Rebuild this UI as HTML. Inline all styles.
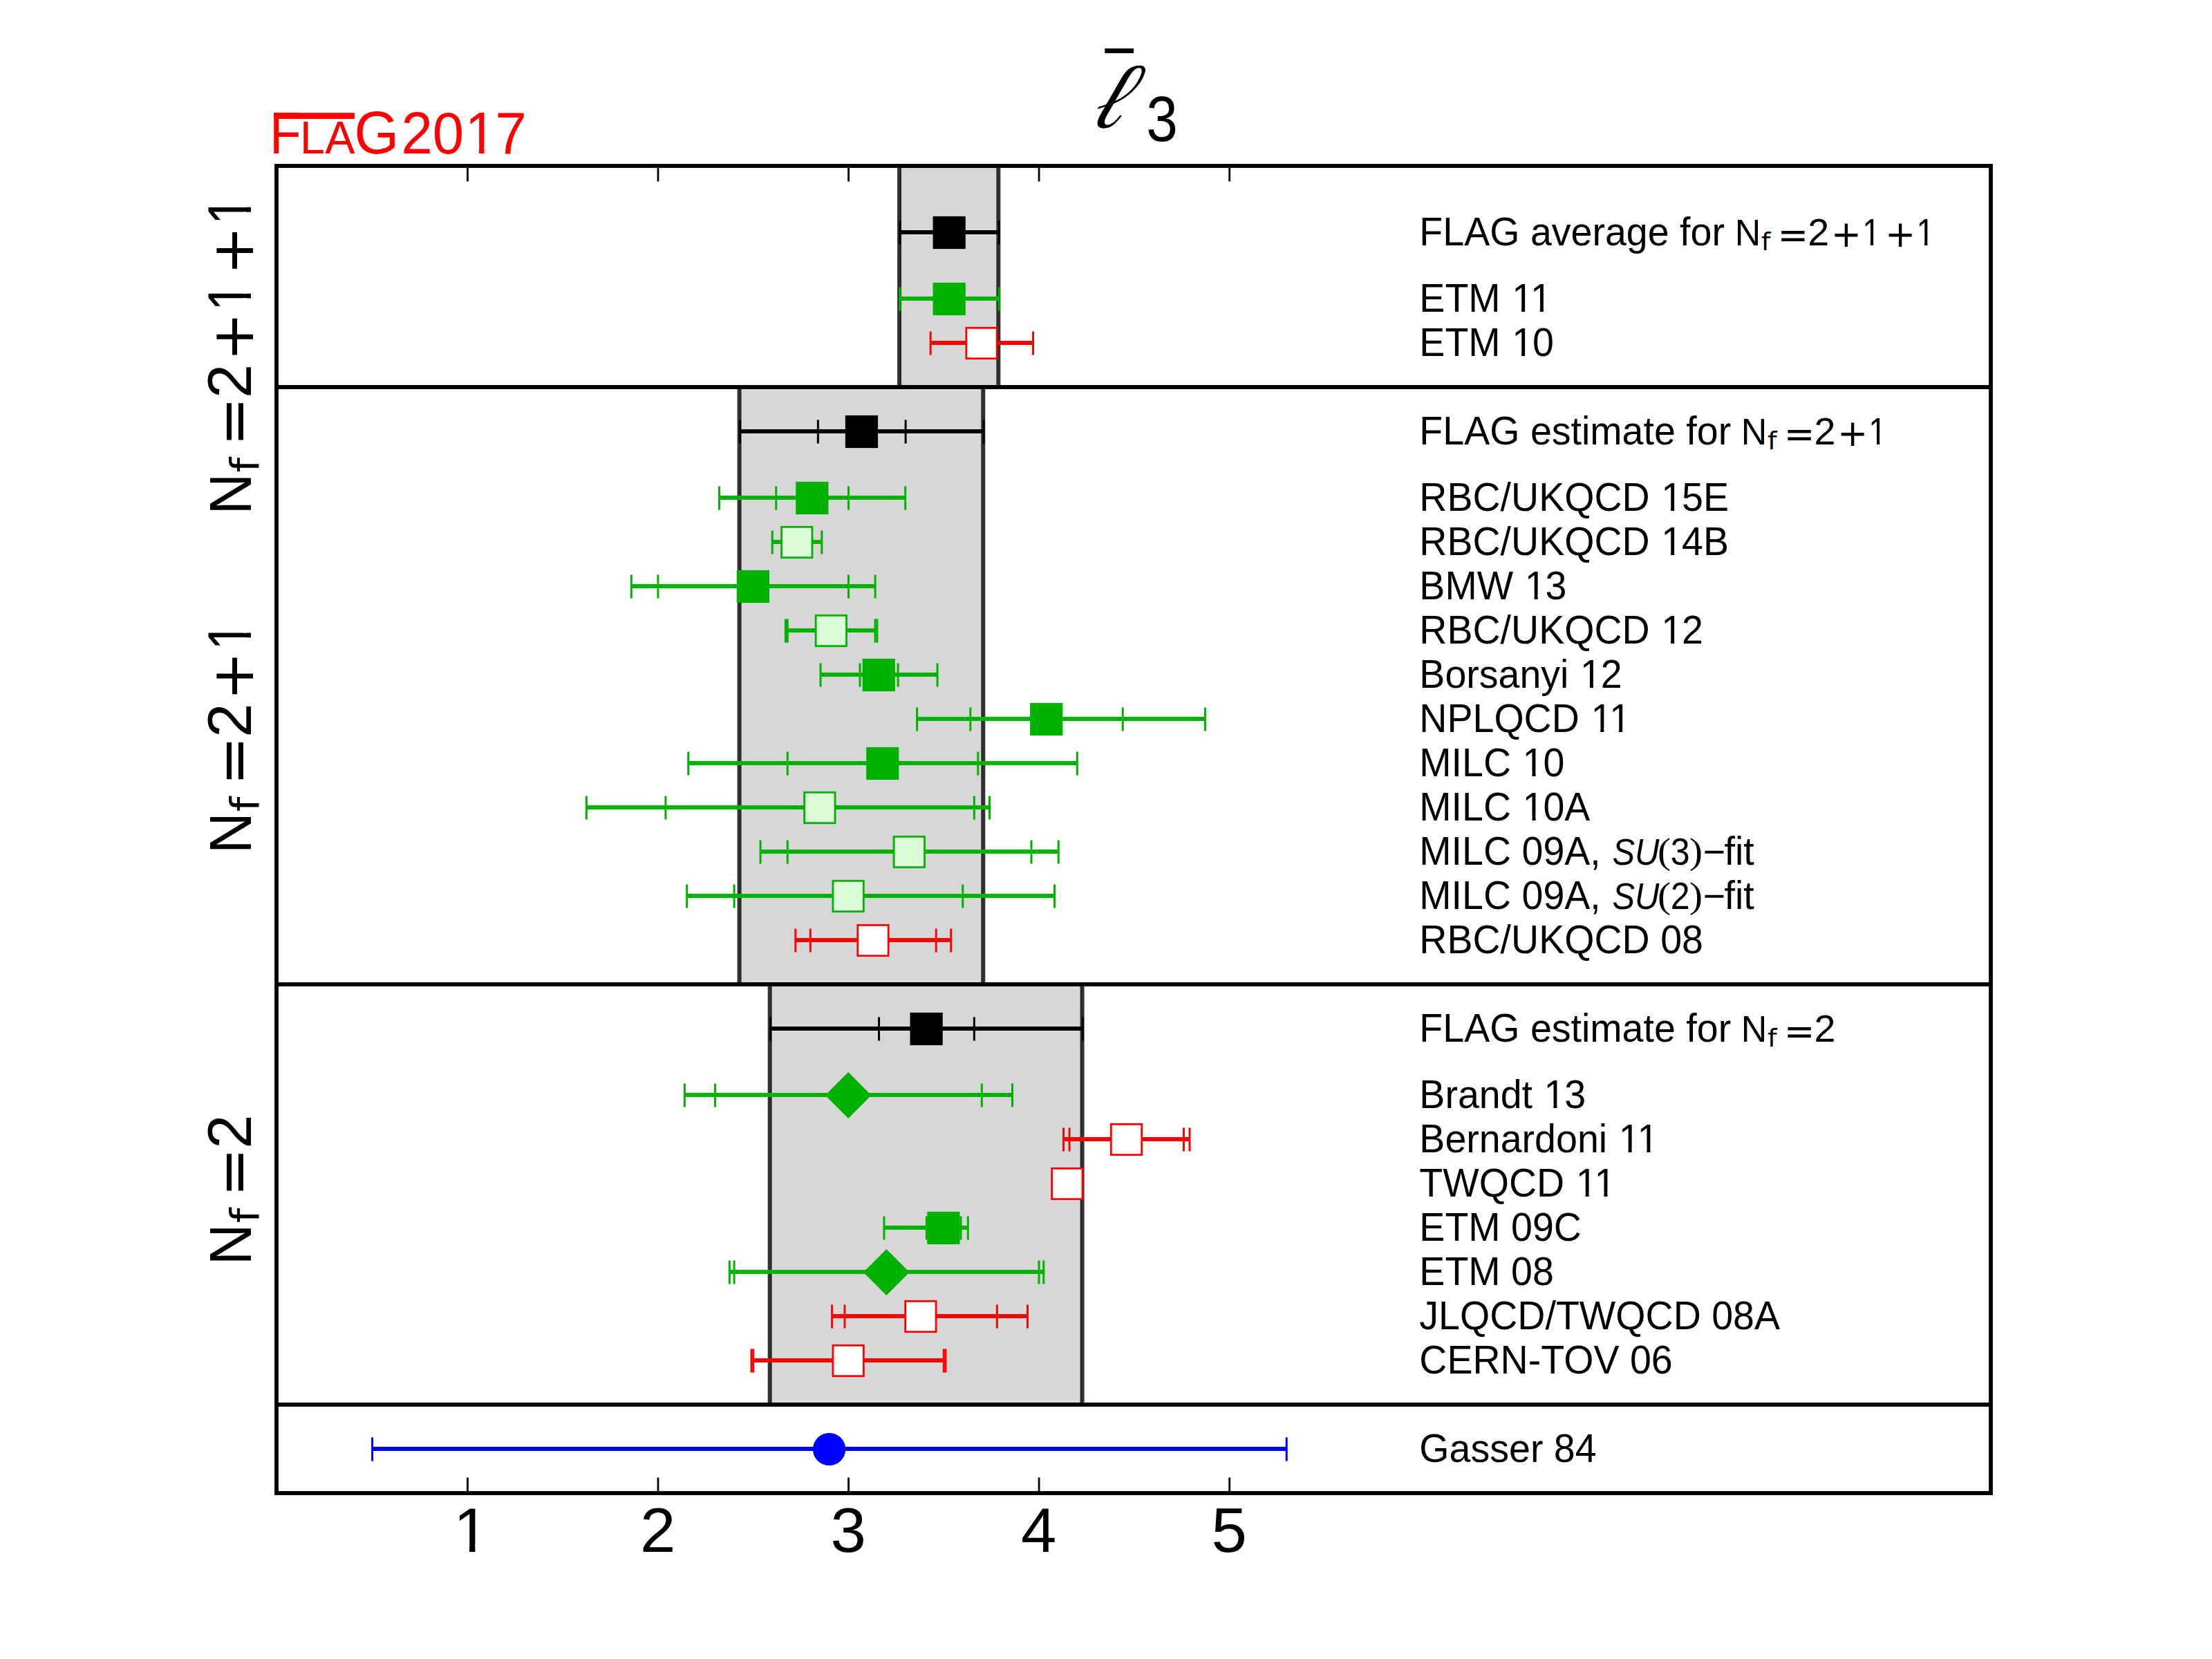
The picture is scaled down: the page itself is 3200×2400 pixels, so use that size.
<!DOCTYPE html>
<html lang="en"><head><meta charset="utf-8"><title>FLAG 2017 l3</title>
<style>
html,body{margin:0;padding:0;background:#fff;overflow:hidden}
svg text{fill:#000;font-kerning:none;white-space:pre}
svg text.r{fill:#ff0000}
.s{font-family:"Liberation Sans",sans-serif}
.d{font-family:"DejaVu Sans","Liberation Sans",sans-serif}
.r{fill:#ff0000}
.t{font-family:"Liberation Serif",serif}
</style></head><body>
<svg width="3200" height="2400" viewBox="0 0 3200 2400" style="display:block">
<rect x="0" y="0" width="3200" height="2400" fill="#ffffff"/>
<defs><clipPath id="c1"><path d="M8 -80H34.6V1H24.8V-12H8Z"/></clipPath></defs>
<rect x="1301.07" y="240.00" width="143.29" height="320.00" fill="#d7d7d7" stroke="#000" stroke-opacity="0.8" stroke-width="6.0"/>
<rect x="1069.60" y="560.00" width="352.71" height="864.00" fill="#d7d7d7" stroke="#000" stroke-opacity="0.8" stroke-width="6.0"/>
<rect x="1113.69" y="1424.00" width="451.91" height="608.00" fill="#d7d7d7" stroke="#000" stroke-opacity="0.8" stroke-width="6.0"/>
<path d="M1301.07 336.00H1444.36" stroke="#000" stroke-width="6.1" fill="none"/>
<path d="M1301.87 319.40V353.60" stroke="#000" stroke-width="3.0" fill="none"/>
<path d="M1445.16 319.40V353.60" stroke="#000" stroke-width="3.0" fill="none"/>
<rect x="1351.01" y="314.30" width="44.4" height="44.4" fill="#000" stroke="#000" stroke-width="2.8"/>
<path d="M1301.07 432.00H1444.36" stroke="#00b200" stroke-width="6.1" fill="none"/>
<path d="M1301.87 415.40V449.60" stroke="#00b200" stroke-width="3.0" fill="none"/>
<path d="M1445.16 415.40V449.60" stroke="#00b200" stroke-width="3.0" fill="none"/>
<rect x="1351.01" y="410.30" width="44.4" height="44.4" fill="#00b200" stroke="#00b200" stroke-width="2.8"/>
<path d="M1345.36 496.00H1493.75" stroke="#ff0000" stroke-width="6.1" fill="none"/>
<path d="M1346.16 479.40V513.60" stroke="#ff0000" stroke-width="3.0" fill="none"/>
<path d="M1494.55 479.40V513.60" stroke="#ff0000" stroke-width="3.0" fill="none"/>
<path d="M1400.27 496.00H1438.84" stroke="#ff0000" stroke-width="6.1" fill="none"/>
<path d="M1401.07 479.40V513.60" stroke="#ff0000" stroke-width="3.0" fill="none"/>
<path d="M1439.64 479.40V513.60" stroke="#ff0000" stroke-width="3.0" fill="none"/>
<rect x="1397.86" y="474.30" width="44.4" height="44.4" fill="#fff" stroke="#ff0000" stroke-width="2.8"/>
<path d="M1069.60 624.00H1422.31" stroke="#000" stroke-width="6.1" fill="none"/>
<path d="M1070.40 607.40V641.60" stroke="#000" stroke-width="3.0" fill="none"/>
<path d="M1423.11 607.40V641.60" stroke="#000" stroke-width="3.0" fill="none"/>
<path d="M1182.58 624.00H1309.33" stroke="#000" stroke-width="6.1" fill="none"/>
<path d="M1183.38 607.40V641.60" stroke="#000" stroke-width="3.0" fill="none"/>
<path d="M1310.13 607.40V641.60" stroke="#000" stroke-width="3.0" fill="none"/>
<rect x="1224.26" y="602.30" width="44.4" height="44.4" fill="#000" stroke="#000" stroke-width="2.8"/>
<path d="M1039.71 720.00H1308.91" stroke="#00b200" stroke-width="6.1" fill="none"/>
<path d="M1040.51 703.40V737.60" stroke="#00b200" stroke-width="3.0" fill="none"/>
<path d="M1309.71 703.40V737.60" stroke="#00b200" stroke-width="3.0" fill="none"/>
<path d="M1121.96 720.00H1226.67" stroke="#00b200" stroke-width="6.1" fill="none"/>
<path d="M1122.76 703.40V737.60" stroke="#00b200" stroke-width="3.0" fill="none"/>
<path d="M1227.47 703.40V737.60" stroke="#00b200" stroke-width="3.0" fill="none"/>
<rect x="1152.61" y="698.30" width="44.4" height="44.4" fill="#00b200" stroke="#00b200" stroke-width="2.8"/>
<path d="M1116.44 784.00H1188.09" stroke="#00b200" stroke-width="6.1" fill="none"/>
<path d="M1117.24 767.40V801.60" stroke="#00b200" stroke-width="3.0" fill="none"/>
<path d="M1188.89 767.40V801.60" stroke="#00b200" stroke-width="3.0" fill="none"/>
<rect x="1130.57" y="762.30" width="44.4" height="44.4" fill="#dcfcdc" stroke="#00b200" stroke-width="2.8"/>
<path d="M912.45 848.00H1265.33" stroke="#00b200" stroke-width="6.1" fill="none"/>
<path d="M913.25 831.40V865.60" stroke="#00b200" stroke-width="3.0" fill="none"/>
<path d="M1266.13 831.40V865.60" stroke="#00b200" stroke-width="3.0" fill="none"/>
<path d="M951.11 848.00H1226.67" stroke="#00b200" stroke-width="6.1" fill="none"/>
<path d="M951.91 831.40V865.60" stroke="#00b200" stroke-width="3.0" fill="none"/>
<path d="M1227.47 831.40V865.60" stroke="#00b200" stroke-width="3.0" fill="none"/>
<rect x="1067.19" y="826.30" width="44.4" height="44.4" fill="#00b200" stroke="#00b200" stroke-width="2.8"/>
<path d="M1135.62 912.00H1268.11" stroke="#00b200" stroke-width="6.1" fill="none"/>
<path d="M1136.42 895.40V929.60" stroke="#00b200" stroke-width="3.0" fill="none"/>
<path d="M1268.91 895.40V929.60" stroke="#00b200" stroke-width="3.0" fill="none"/>
<path d="M1138.49 912.00H1265.24" stroke="#00b200" stroke-width="6.1" fill="none"/>
<path d="M1139.29 895.40V929.60" stroke="#00b200" stroke-width="3.0" fill="none"/>
<path d="M1266.04 895.40V929.60" stroke="#00b200" stroke-width="3.0" fill="none"/>
<rect x="1180.17" y="890.30" width="44.4" height="44.4" fill="#dcfcdc" stroke="#00b200" stroke-width="2.8"/>
<path d="M1186.23 976.00H1355.28" stroke="#00b200" stroke-width="6.1" fill="none"/>
<path d="M1187.03 959.40V993.60" stroke="#00b200" stroke-width="3.0" fill="none"/>
<path d="M1356.08 959.40V993.60" stroke="#00b200" stroke-width="3.0" fill="none"/>
<path d="M1243.20 976.00H1298.31" stroke="#00b200" stroke-width="6.1" fill="none"/>
<path d="M1244.00 959.40V993.60" stroke="#00b200" stroke-width="3.0" fill="none"/>
<path d="M1299.11 959.40V993.60" stroke="#00b200" stroke-width="3.0" fill="none"/>
<rect x="1249.06" y="954.30" width="44.4" height="44.4" fill="#00b200" stroke="#00b200" stroke-width="2.8"/>
<path d="M1325.85 1040.00H1742.62" stroke="#00b200" stroke-width="6.1" fill="none"/>
<path d="M1326.65 1023.40V1057.60" stroke="#00b200" stroke-width="3.0" fill="none"/>
<path d="M1743.42 1023.40V1057.60" stroke="#00b200" stroke-width="3.0" fill="none"/>
<path d="M1403.02 1040.00H1623.47" stroke="#00b200" stroke-width="6.1" fill="none"/>
<path d="M1403.82 1023.40V1057.60" stroke="#00b200" stroke-width="3.0" fill="none"/>
<path d="M1624.27 1023.40V1057.60" stroke="#00b200" stroke-width="3.0" fill="none"/>
<rect x="1491.54" y="1018.30" width="44.4" height="44.4" fill="#00b200" stroke="#00b200" stroke-width="2.8"/>
<path d="M994.97 1104.00H1557.56" stroke="#00b200" stroke-width="6.1" fill="none"/>
<path d="M995.77 1087.40V1121.60" stroke="#00b200" stroke-width="3.0" fill="none"/>
<path d="M1558.36 1087.40V1121.60" stroke="#00b200" stroke-width="3.0" fill="none"/>
<path d="M1138.49 1104.00H1414.04" stroke="#00b200" stroke-width="6.1" fill="none"/>
<path d="M1139.29 1087.40V1121.60" stroke="#00b200" stroke-width="3.0" fill="none"/>
<path d="M1414.84 1087.40V1121.60" stroke="#00b200" stroke-width="3.0" fill="none"/>
<rect x="1254.57" y="1082.30" width="44.4" height="44.4" fill="#00b200" stroke="#00b200" stroke-width="2.8"/>
<path d="M847.57 1168.00H1430.72" stroke="#00b200" stroke-width="6.1" fill="none"/>
<path d="M848.37 1151.40V1185.60" stroke="#00b200" stroke-width="3.0" fill="none"/>
<path d="M1431.52 1151.40V1185.60" stroke="#00b200" stroke-width="3.0" fill="none"/>
<path d="M962.13 1168.00H1408.53" stroke="#00b200" stroke-width="6.1" fill="none"/>
<path d="M962.93 1151.40V1185.60" stroke="#00b200" stroke-width="3.0" fill="none"/>
<path d="M1409.33 1151.40V1185.60" stroke="#00b200" stroke-width="3.0" fill="none"/>
<rect x="1163.63" y="1146.30" width="44.4" height="44.4" fill="#dcfcdc" stroke="#00b200" stroke-width="2.8"/>
<path d="M1099.26 1232.00H1530.43" stroke="#00b200" stroke-width="6.1" fill="none"/>
<path d="M1100.06 1215.40V1249.60" stroke="#00b200" stroke-width="3.0" fill="none"/>
<path d="M1531.23 1215.40V1249.60" stroke="#00b200" stroke-width="3.0" fill="none"/>
<path d="M1138.49 1232.00H1491.20" stroke="#00b200" stroke-width="6.1" fill="none"/>
<path d="M1139.29 1215.40V1249.60" stroke="#00b200" stroke-width="3.0" fill="none"/>
<path d="M1492.00 1215.40V1249.60" stroke="#00b200" stroke-width="3.0" fill="none"/>
<rect x="1293.14" y="1210.30" width="44.4" height="44.4" fill="#dcfcdc" stroke="#00b200" stroke-width="2.8"/>
<path d="M992.85 1296.00H1524.73" stroke="#00b200" stroke-width="6.1" fill="none"/>
<path d="M993.65 1279.40V1313.60" stroke="#00b200" stroke-width="3.0" fill="none"/>
<path d="M1525.53 1279.40V1313.60" stroke="#00b200" stroke-width="3.0" fill="none"/>
<path d="M1061.33 1296.00H1392.00" stroke="#00b200" stroke-width="6.1" fill="none"/>
<path d="M1062.13 1279.40V1313.60" stroke="#00b200" stroke-width="3.0" fill="none"/>
<path d="M1392.80 1279.40V1313.60" stroke="#00b200" stroke-width="3.0" fill="none"/>
<rect x="1204.97" y="1274.30" width="44.4" height="44.4" fill="#dcfcdc" stroke="#00b200" stroke-width="2.8"/>
<path d="M1150.05 1360.00H1374.93" stroke="#ff0000" stroke-width="6.1" fill="none"/>
<path d="M1150.85 1343.40V1377.60" stroke="#ff0000" stroke-width="3.0" fill="none"/>
<path d="M1375.73 1343.40V1377.60" stroke="#ff0000" stroke-width="3.0" fill="none"/>
<path d="M1171.56 1360.00H1353.42" stroke="#ff0000" stroke-width="6.1" fill="none"/>
<path d="M1172.36 1343.40V1377.60" stroke="#ff0000" stroke-width="3.0" fill="none"/>
<path d="M1354.22 1343.40V1377.60" stroke="#ff0000" stroke-width="3.0" fill="none"/>
<rect x="1240.79" y="1338.30" width="44.4" height="44.4" fill="#fff" stroke="#ff0000" stroke-width="2.8"/>
<path d="M1113.69 1488.00H1565.60" stroke="#000" stroke-width="6.1" fill="none"/>
<path d="M1114.49 1471.40V1505.60" stroke="#000" stroke-width="3.0" fill="none"/>
<path d="M1566.40 1471.40V1505.60" stroke="#000" stroke-width="3.0" fill="none"/>
<path d="M1270.76 1488.00H1408.53" stroke="#000" stroke-width="6.1" fill="none"/>
<path d="M1271.56 1471.40V1505.60" stroke="#000" stroke-width="3.0" fill="none"/>
<path d="M1409.33 1471.40V1505.60" stroke="#000" stroke-width="3.0" fill="none"/>
<rect x="1317.94" y="1466.30" width="44.4" height="44.4" fill="#000" stroke="#000" stroke-width="2.8"/>
<path d="M989.62 1584.00H1463.71" stroke="#00b200" stroke-width="6.1" fill="none"/>
<path d="M990.42 1567.40V1601.60" stroke="#00b200" stroke-width="3.0" fill="none"/>
<path d="M1464.51 1567.40V1601.60" stroke="#00b200" stroke-width="3.0" fill="none"/>
<path d="M1033.78 1584.00H1419.56" stroke="#00b200" stroke-width="6.1" fill="none"/>
<path d="M1034.58 1567.40V1601.60" stroke="#00b200" stroke-width="3.0" fill="none"/>
<path d="M1420.36 1567.40V1601.60" stroke="#00b200" stroke-width="3.0" fill="none"/>
<path d="M1227.17 1553.10L1258.56 1584.50L1227.17 1615.90L1195.77 1584.50Z" fill="#00b200" stroke="#00b200" stroke-width="2.8"/>
<path d="M1537.75 1648.00H1720.20" stroke="#ff0000" stroke-width="6.1" fill="none"/>
<path d="M1538.55 1631.40V1665.60" stroke="#ff0000" stroke-width="3.0" fill="none"/>
<path d="M1721.00 1631.40V1665.60" stroke="#ff0000" stroke-width="3.0" fill="none"/>
<path d="M1546.31 1648.00H1711.64" stroke="#ff0000" stroke-width="6.1" fill="none"/>
<path d="M1547.11 1631.40V1665.60" stroke="#ff0000" stroke-width="3.0" fill="none"/>
<path d="M1712.44 1631.40V1665.60" stroke="#ff0000" stroke-width="3.0" fill="none"/>
<rect x="1607.28" y="1626.30" width="44.4" height="44.4" fill="#fff" stroke="#ff0000" stroke-width="2.8"/>
<path d="M1532.89 1712.00H1553.67" stroke="#ff0000" stroke-width="6.1" fill="none"/>
<path d="M1533.69 1695.40V1729.60" stroke="#ff0000" stroke-width="3.0" fill="none"/>
<path d="M1554.47 1695.40V1729.60" stroke="#ff0000" stroke-width="3.0" fill="none"/>
<path d="M1533.64 1712.00H1552.92" stroke="#ff0000" stroke-width="6.1" fill="none"/>
<path d="M1534.44 1695.40V1729.60" stroke="#ff0000" stroke-width="3.0" fill="none"/>
<path d="M1553.72 1695.40V1729.60" stroke="#ff0000" stroke-width="3.0" fill="none"/>
<rect x="1521.58" y="1690.30" width="44.4" height="44.4" fill="#fff" stroke="#ff0000" stroke-width="2.8"/>
<path d="M1278.14 1776.00H1399.52" stroke="#00b200" stroke-width="6.1" fill="none"/>
<path d="M1278.94 1759.40V1793.60" stroke="#00b200" stroke-width="3.0" fill="none"/>
<path d="M1400.32 1759.40V1793.60" stroke="#00b200" stroke-width="3.0" fill="none"/>
<path d="M1339.64 1776.00H1389.24" stroke="#00b200" stroke-width="6.1" fill="none"/>
<path d="M1340.44 1759.40V1793.60" stroke="#00b200" stroke-width="3.0" fill="none"/>
<path d="M1390.04 1759.40V1793.60" stroke="#00b200" stroke-width="3.0" fill="none"/>
<rect x="1342.74" y="1754.30" width="44.4" height="44.4" fill="#00b200" stroke="#00b200" stroke-width="2.8"/>
<path d="M1054.55 1840.00H1509.01" stroke="#00b200" stroke-width="6.1" fill="none"/>
<path d="M1055.35 1823.40V1857.60" stroke="#00b200" stroke-width="3.0" fill="none"/>
<path d="M1509.81 1823.40V1857.60" stroke="#00b200" stroke-width="3.0" fill="none"/>
<path d="M1061.33 1840.00H1502.22" stroke="#00b200" stroke-width="6.1" fill="none"/>
<path d="M1062.13 1823.40V1857.60" stroke="#00b200" stroke-width="3.0" fill="none"/>
<path d="M1503.02 1823.40V1857.60" stroke="#00b200" stroke-width="3.0" fill="none"/>
<path d="M1282.28 1809.10L1313.67 1840.50L1282.28 1871.90L1250.88 1840.50Z" fill="#00b200" stroke="#00b200" stroke-width="2.8"/>
<path d="M1202.84 1904.00H1485.71" stroke="#ff0000" stroke-width="6.1" fill="none"/>
<path d="M1203.64 1887.40V1921.60" stroke="#ff0000" stroke-width="3.0" fill="none"/>
<path d="M1486.51 1887.40V1921.60" stroke="#ff0000" stroke-width="3.0" fill="none"/>
<path d="M1221.16 1904.00H1441.60" stroke="#ff0000" stroke-width="6.1" fill="none"/>
<path d="M1221.96 1887.40V1921.60" stroke="#ff0000" stroke-width="3.0" fill="none"/>
<path d="M1442.40 1887.40V1921.60" stroke="#ff0000" stroke-width="3.0" fill="none"/>
<rect x="1309.68" y="1882.30" width="44.4" height="44.4" fill="#fff" stroke="#ff0000" stroke-width="2.8"/>
<path d="M1086.16 1968.00H1367.17" stroke="#ff0000" stroke-width="6.1" fill="none"/>
<path d="M1086.96 1951.40V1985.60" stroke="#ff0000" stroke-width="3.0" fill="none"/>
<path d="M1367.97 1951.40V1985.60" stroke="#ff0000" stroke-width="3.0" fill="none"/>
<path d="M1088.89 1968.00H1364.44" stroke="#ff0000" stroke-width="6.1" fill="none"/>
<path d="M1089.69 1951.40V1985.60" stroke="#ff0000" stroke-width="3.0" fill="none"/>
<path d="M1365.24 1951.40V1985.60" stroke="#ff0000" stroke-width="3.0" fill="none"/>
<rect x="1204.97" y="1946.30" width="44.4" height="44.4" fill="#fff" stroke="#ff0000" stroke-width="2.8"/>
<path d="M537.78 2096.00H1860.44" stroke="#0000ff" stroke-width="6.1" fill="none"/>
<path d="M538.58 2079.40V2113.60" stroke="#0000ff" stroke-width="3.0" fill="none"/>
<path d="M1861.24 2079.40V2113.60" stroke="#0000ff" stroke-width="3.0" fill="none"/>
<circle cx="1199.61" cy="2096.50" r="22.20" fill="#0000ff" stroke="#0000ff" stroke-width="2.8"/>
<path d="M400.0 560.00H2880.0" stroke="#000" stroke-width="5.8"/>
<path d="M400.0 1424.00H2880.0" stroke="#000" stroke-width="5.8"/>
<path d="M400.0 2032.00H2880.0" stroke="#000" stroke-width="5.8"/>
<rect x="400.0" y="240.0" width="2480.0" height="1920.0" fill="none" stroke="#000" stroke-width="5.8"/>
<path d="M676.46 240.0v22.6M676.46 2160.0v-22.6" stroke="#000" stroke-width="2.8"/>
<path d="M952.01 240.0v22.6M952.01 2160.0v-22.6" stroke="#000" stroke-width="2.8"/>
<path d="M1227.57 240.0v22.6M1227.57 2160.0v-22.6" stroke="#000" stroke-width="2.8"/>
<path d="M1503.12 240.0v22.6M1503.12 2160.0v-22.6" stroke="#000" stroke-width="2.8"/>
<path d="M1778.68 240.0v22.6M1778.68 2160.0v-22.6" stroke="#000" stroke-width="2.8"/>
<g transform="translate(2053.33 355.40) scale(0.5556 0.5750)"><text x="0.0 61.1 116.7 183.4 261.2 289.0 344.6 394.6 450.2 483.5 539.1 594.7 650.3 678.1 705.9 761.5 794.8" y="0" font-size="100" class="s">FLAG average for </text></g>
<g transform="translate(2509.67 355.40) scale(0.5200 0.5382)"><text x="0.0" y="0" font-size="100" class="s">N</text></g><text font-size="36.50" class="d" transform="translate(2547.87 362.40) scale(1.05 0.97)">f</text><text x="2571.62" y="357.60" font-size="53.30" class="d">=</text><g transform="translate(2615.27 355.40) scale(0.5556 0.5556)"><text x="0.0" y="0" font-size="100" class="s">2</text></g><text x="2648.77" y="357.40" font-size="52.80" class="d">+</text><g transform="translate(2694.17 355.40) scale(0.4667 0.5556)"><text x="0.0" y="0" font-size="100" class="s">1</text><path d="M4.5 -12h20.45v14h-20.45zM34.1 -12h19.5v14h-19.5z" fill="#fff"/></g><text x="2727.07" y="357.40" font-size="52.80" class="d">+</text><g transform="translate(2772.47 355.40) scale(0.4667 0.5556)"><text x="0.0" y="0" font-size="100" class="s">1</text><path d="M4.5 -12h20.45v14h-20.45zM34.1 -12h19.5v14h-19.5z" fill="#fff"/></g>
<g transform="translate(2053.33 451.40) scale(0.5556 0.5750)"><text x="0.0 66.7 127.8 211.1 240.9 289.1" y="0" font-size="100" class="s">ETM 11</text><path d="M245.4 -12h20.45v14h-20.45zM275.0 -12h19.5v14h-19.5z" fill="#fff"/><path d="M293.6 -12h20.45v14h-20.45zM323.2 -12h19.5v14h-19.5z" fill="#fff"/></g>
<g transform="translate(2053.33 515.40) scale(0.5556 0.5750)"><text x="0.0 66.7 127.8 211.1 240.9 294.5" y="0" font-size="100" class="s">ETM 10</text><path d="M245.4 -12h20.45v14h-20.45zM275.0 -12h19.5v14h-19.5z" fill="#fff"/></g>
<g transform="translate(2053.33 643.40) scale(0.5556 0.5750)"><text x="0.0 61.1 116.7 183.4 261.2 289.0 344.6 394.6 422.4 444.6 527.9 583.5 611.3 666.9 694.7 722.5 778.1 811.4" y="0" font-size="100" class="s">FLAG estimate for </text></g>
<g transform="translate(2518.87 643.40) scale(0.5200 0.5382)"><text x="0.0" y="0" font-size="100" class="s">N</text></g><text font-size="36.50" class="d" transform="translate(2557.07 650.40) scale(1.05 0.97)">f</text><text x="2580.82" y="645.60" font-size="53.30" class="d">=</text><g transform="translate(2624.47 643.40) scale(0.5556 0.5556)"><text x="0.0" y="0" font-size="100" class="s">2</text></g><text x="2657.97" y="645.40" font-size="52.80" class="d">+</text><g transform="translate(2703.37 643.40) scale(0.4667 0.5556)"><text x="0.0" y="0" font-size="100" class="s">1</text><path d="M4.5 -12h20.45v14h-20.45zM34.1 -12h19.5v14h-19.5z" fill="#fff"/></g>
<g transform="translate(2053.33 739.40) scale(0.5556 0.5750)"><text x="0.0 72.2 138.9 211.1 238.9 311.1 377.8 455.6 527.8 600.0 629.8 683.4 739.1" y="0" font-size="100" class="s">RBC/UKQCD 15E</text><path d="M634.3 -12h20.45v14h-20.45zM663.9 -12h19.5v14h-19.5z" fill="#fff"/></g>
<g transform="translate(2053.33 803.40) scale(0.5556 0.5750)"><text x="0.0 72.2 138.9 211.1 238.9 311.1 377.8 455.6 527.8 600.0 629.8 683.4 739.1" y="0" font-size="100" class="s">RBC/UKQCD 14B</text><path d="M634.3 -12h20.45v14h-20.45zM663.9 -12h19.5v14h-19.5z" fill="#fff"/></g>
<g transform="translate(2053.33 867.40) scale(0.5556 0.5750)"><text x="0.0 66.7 150.0 244.4 274.2 327.8" y="0" font-size="100" class="s">BMW 13</text><path d="M278.7 -12h20.45v14h-20.45zM308.3 -12h19.5v14h-19.5z" fill="#fff"/></g>
<g transform="translate(2053.33 931.40) scale(0.5556 0.5750)"><text x="0.0 72.2 138.9 211.1 238.9 311.1 377.8 455.6 527.8 600.0 629.8 683.4" y="0" font-size="100" class="s">RBC/UKQCD 12</text><path d="M634.3 -12h20.45v14h-20.45zM663.9 -12h19.5v14h-19.5z" fill="#fff"/></g>
<g transform="translate(2053.33 995.40) scale(0.5556 0.5750)"><text x="0.0 66.7 122.3 155.6 205.6 261.2 316.8 366.8 389.1 418.8 472.5" y="0" font-size="100" class="s">Borsanyi 12</text><path d="M423.3 -12h20.45v14h-20.45zM452.9 -12h19.5v14h-19.5z" fill="#fff"/></g>
<g transform="translate(2053.33 1059.40) scale(0.5556 0.5750)"><text x="0.0 72.2 138.9 194.5 272.3 344.5 416.7 446.5 494.7" y="0" font-size="100" class="s">NPLQCD 11</text><path d="M451.0 -12h20.45v14h-20.45zM480.6 -12h19.5v14h-19.5z" fill="#fff"/><path d="M499.2 -12h20.45v14h-20.45zM528.8 -12h19.5v14h-19.5z" fill="#fff"/></g>
<g transform="translate(2053.33 1123.40) scale(0.5556 0.5750)"><text x="0.0 83.3 111.1 166.7 238.9 268.7 322.3" y="0" font-size="100" class="s">MILC 10</text><path d="M273.2 -12h20.45v14h-20.45zM302.8 -12h19.5v14h-19.5z" fill="#fff"/></g>
<g transform="translate(2053.33 1187.40) scale(0.5556 0.5750)"><text x="0.0 83.3 111.1 166.7 238.9 268.7 322.3 377.9" y="0" font-size="100" class="s">MILC 10A</text><path d="M273.2 -12h20.45v14h-20.45zM302.8 -12h19.5v14h-19.5z" fill="#fff"/></g>
<g transform="translate(2053.33 1251.40) scale(0.5556 0.5750)"><text x="0.0 83.3 111.1 166.7 238.9 266.7 322.3 377.9 444.6" y="0" font-size="100" class="s">MILC 09A,</text></g>
<text font-size="52" class="s" font-style="italic" transform="translate(2332.5 1251.40) scale(0.94 1.035)">SU</text>
<text font-size="52" class="t" transform="translate(2397.9 1249.40) scale(1.1 1)">(</text>
<g transform="translate(2416.80 1251.40) scale(0.5000 0.5556)"><text x="0.0" y="0" font-size="100" class="s">3</text></g>
<text font-size="52" class="t" transform="translate(2443.9 1249.40) scale(1.1 1)">)</text>
<text x="2463.5" y="1251.40" font-size="55.56" class="s">−</text>
<g transform="translate(2494.50 1251.40) scale(0.5556 0.5750)"><text x="0.0 27.8 50.0" y="0" font-size="100" class="s">fit</text></g>
<g transform="translate(2053.33 1315.40) scale(0.5556 0.5750)"><text x="0.0 83.3 111.1 166.7 238.9 266.7 322.3 377.9 444.6" y="0" font-size="100" class="s">MILC 09A,</text></g>
<text font-size="52" class="s" font-style="italic" transform="translate(2332.5 1315.40) scale(0.94 1.035)">SU</text>
<text font-size="52" class="t" transform="translate(2397.9 1313.40) scale(1.1 1)">(</text>
<g transform="translate(2416.80 1315.40) scale(0.5000 0.5556)"><text x="0.0" y="0" font-size="100" class="s">2</text></g>
<text font-size="52" class="t" transform="translate(2443.9 1313.40) scale(1.1 1)">)</text>
<text x="2463.5" y="1315.40" font-size="55.56" class="s">−</text>
<g transform="translate(2494.50 1315.40) scale(0.5556 0.5750)"><text x="0.0 27.8 50.0" y="0" font-size="100" class="s">fit</text></g>
<g transform="translate(2053.33 1379.40) scale(0.5556 0.5750)"><text x="0.0 72.2 138.9 211.1 238.9 311.1 377.8 455.6 527.8 600.0 627.8 683.4" y="0" font-size="100" class="s">RBC/UKQCD 08</text></g>
<g transform="translate(2053.33 1507.40) scale(0.5556 0.5750)"><text x="0.0 61.1 116.7 183.4 261.2 289.0 344.6 394.6 422.4 444.6 527.9 583.5 611.3 666.9 694.7 722.5 778.1 811.4" y="0" font-size="100" class="s">FLAG estimate for </text></g>
<g transform="translate(2518.87 1507.40) scale(0.5200 0.5382)"><text x="0.0" y="0" font-size="100" class="s">N</text></g><text font-size="36.50" class="d" transform="translate(2557.07 1514.40) scale(1.05 0.97)">f</text><text x="2580.82" y="1509.60" font-size="53.30" class="d">=</text><g transform="translate(2624.47 1507.40) scale(0.5556 0.5556)"><text x="0.0" y="0" font-size="100" class="s">2</text></g>
<g transform="translate(2053.33 1603.40) scale(0.5556 0.5750)"><text x="0.0 66.7 100.0 155.6 211.2 266.8 294.6 324.4 378.0" y="0" font-size="100" class="s">Brandt 13</text><path d="M328.9 -12h20.45v14h-20.45zM358.5 -12h19.5v14h-19.5z" fill="#fff"/></g>
<g transform="translate(2053.33 1667.40) scale(0.5556 0.5750)"><text x="0.0 66.7 122.3 155.6 211.2 266.8 300.1 355.8 411.4 467.0 489.2 519.0 567.2" y="0" font-size="100" class="s">Bernardoni 11</text><path d="M523.5 -12h20.45v14h-20.45zM553.1 -12h19.5v14h-19.5z" fill="#fff"/><path d="M571.7 -12h20.45v14h-20.45zM601.3 -12h19.5v14h-19.5z" fill="#fff"/></g>
<g transform="translate(2053.33 1731.40) scale(0.5556 0.5750)"><text x="0.0 61.1 155.5 233.3 305.5 377.7 407.5 455.7" y="0" font-size="100" class="s">TWQCD 11</text><path d="M412.0 -12h20.45v14h-20.45zM441.6 -12h19.5v14h-19.5z" fill="#fff"/><path d="M460.2 -12h20.45v14h-20.45zM489.8 -12h19.5v14h-19.5z" fill="#fff"/></g>
<g transform="translate(2053.33 1795.40) scale(0.5556 0.5750)"><text x="0.0 66.7 127.8 211.1 238.9 294.5 350.1" y="0" font-size="100" class="s">ETM 09C</text></g>
<g transform="translate(2053.33 1859.40) scale(0.5556 0.5750)"><text x="0.0 66.7 127.8 211.1 238.9 294.5" y="0" font-size="100" class="s">ETM 08</text></g>
<g transform="translate(2053.33 1923.40) scale(0.5556 0.5750)"><text x="0.0 50.0 105.6 183.4 255.6 327.8 355.6 416.7 511.1 588.9 661.1 733.3 761.1 816.7 872.3" y="0" font-size="100" class="s">JLQCD/TWQCD 08A</text></g>
<g transform="translate(2053.33 1987.40) scale(0.5556 0.5750)"><text x="0.0 72.2 138.9 211.1 283.3 316.7 375.9 453.7 520.4 548.2 603.8" y="0" font-size="100" class="s">CERN-TOV 06</text></g>
<g transform="translate(2053.33 2115.40) scale(0.5556 0.5750)"><text x="0.0 77.8 133.4 183.4 233.4 289.0 322.3 350.1 405.7" y="0" font-size="100" class="s">Gasser 84</text></g>
<g transform="translate(363.2 744.39) rotate(-90)"><g transform="translate(0.00 0.00) scale(0.8294 0.8584)"><text x="0.0" y="0" font-size="100" class="s">N</text></g><text font-size="58.22" class="d" transform="translate(60.93 11.16) scale(1.05 0.97)">f</text><text x="98.81" y="3.51" font-size="85.01" class="d">=</text><g transform="translate(168.43 0.00) scale(0.8862 0.8862)"><text x="0.0" y="0" font-size="100" class="s">2</text></g><text x="221.86" y="3.19" font-size="84.22" class="d">+</text><g transform="translate(294.28 0.00) scale(0.7444 0.8862)"><text x="0.0" y="0" font-size="100" class="s">1</text><path d="M4.5 -12h20.45v14h-20.45zM34.1 -12h19.5v14h-19.5z" fill="#fff"/></g><text x="346.75" y="3.19" font-size="84.22" class="d">+</text><g transform="translate(419.17 0.00) scale(0.7444 0.8862)"><text x="0.0" y="0" font-size="100" class="s">1</text><path d="M4.5 -12h20.45v14h-20.45zM34.1 -12h19.5v14h-19.5z" fill="#fff"/></g></g>
<g transform="translate(363.2 1235.09) rotate(-90)"><g transform="translate(0.00 0.00) scale(0.8294 0.8584)"><text x="0.0" y="0" font-size="100" class="s">N</text></g><text font-size="58.22" class="d" transform="translate(60.93 11.16) scale(1.05 0.97)">f</text><text x="98.81" y="3.51" font-size="85.01" class="d">=</text><g transform="translate(168.43 0.00) scale(0.8862 0.8862)"><text x="0.0" y="0" font-size="100" class="s">2</text></g><text x="221.86" y="3.19" font-size="84.22" class="d">+</text><g transform="translate(294.28 0.00) scale(0.7444 0.8862)"><text x="0.0" y="0" font-size="100" class="s">1</text><path d="M4.5 -12h20.45v14h-20.45zM34.1 -12h19.5v14h-19.5z" fill="#fff"/></g></g>
<g transform="translate(363.2 1830.19) rotate(-90)"><g transform="translate(0.00 0.00) scale(0.8294 0.8584)"><text x="0.0" y="0" font-size="100" class="s">N</text></g><text font-size="58.22" class="d" transform="translate(60.93 11.16) scale(1.05 0.97)">f</text><text x="98.81" y="3.51" font-size="85.01" class="d">=</text><g transform="translate(168.43 0.00) scale(0.8862 0.8862)"><text x="0.0" y="0" font-size="100" class="s">2</text></g></g>
<g transform="translate(654.05 2244.70) scale(0.9246 0.9121)"><text x="2.0" y="0" font-size="100" class="s">1</text><path d="M6.5 -12h20.45v14h-20.45zM36.1 -12h19.5v14h-19.5z" fill="#fff"/></g>
<g transform="translate(925.91 2244.70) scale(0.9246 0.9121)"><text x="0.0" y="0" font-size="100" class="s">2</text></g>
<g transform="translate(1201.46 2244.70) scale(0.9246 0.9121)"><text x="0.0" y="0" font-size="100" class="s">3</text></g>
<g transform="translate(1477.02 2244.70) scale(0.9246 0.9121)"><text x="0.0" y="0" font-size="100" class="s">4</text></g>
<g transform="translate(1752.58 2244.70) scale(0.9246 0.9121)"><text x="0.0" y="0" font-size="100" class="s">5</text></g>
<g transform="translate(390.22 222.20) scale(0.7414 0.8605)"><text x="0.0" y="0" font-size="100" class="s r">F</text></g>
<g transform="translate(433.90 222.10) scale(0.6470 0.6729)"><text x="0.0" y="0" font-size="100" class="s r">L</text></g>
<g transform="translate(470.30 222.10) scale(0.6470 0.6729)"><text x="0.0" y="0" font-size="100" class="s r">A</text></g>
<g transform="translate(512.40 222.00) scale(0.8300 0.8632)"><text x="0.0" y="0" font-size="100" class="s r">G</text></g>
<g transform="translate(580.50 221.60) scale(0.8150 0.8517)"><text x="0.0 55.6 113.2 166.8" y="0" font-size="100" class="s r">2017</text><path d="M117.7 -12h20.45v14h-20.45zM147.3 -12h19.5v14h-19.5z" fill="#fff"/></g>
<rect x="396.3" y="163.2" width="116.60" height="8.8" fill="#ff0000"/>
<rect x="1598.3" y="70.1" width="41.8" height="6.8" fill="#000"/>
<text x="0" y="0" font-size="130.3" class="s" font-style="italic" stroke="#fff" stroke-width="1.2" transform="translate(1577.5 184.6) skewX(-20) scale(1.08 1)">ℓ</text>
<g transform="translate(1658.28 204.00) scale(0.8190 0.9236)"><text x="0.0" y="0" font-size="100" class="s">3</text></g>
</svg>
</body></html>
